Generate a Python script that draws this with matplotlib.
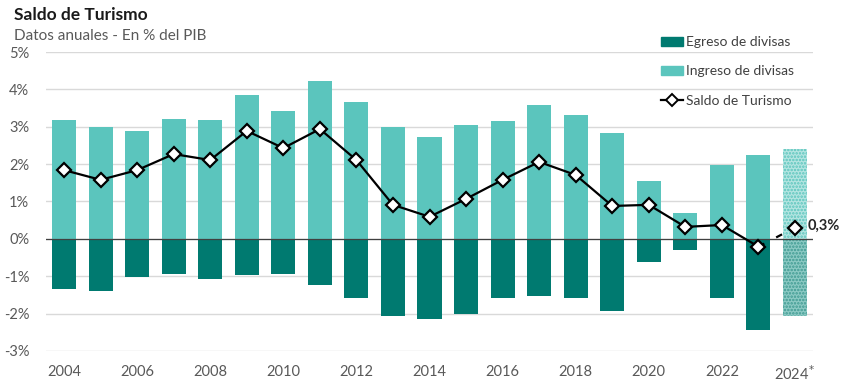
import numpy as np
import matplotlib.pyplot as plt
from matplotlib.patches import Patch
from matplotlib.lines import Line2D

plt.rcParams['font.family'] = ['Lato', 'DejaVu Sans']
plt.rcParams['hatch.linewidth'] = 1.2

# data (% del PIB)
years = list(range(2004, 2025))
ingreso = [3.18, 3.00, 2.89, 3.21, 3.18, 3.85, 3.42, 4.22, 3.66, 3.00, 2.73,
           3.05, 3.16, 3.58, 3.32, 2.83, 1.55, 0.70, 1.98, 2.25, 2.41]
egreso = [-1.34, -1.39, -1.02, -0.94, -1.07, -0.96, -0.94, -1.23, -1.58, -2.06, -2.14,
          -2.00, -1.58, -1.52, -1.58, -1.93, -0.62, -0.29, -1.58, -2.43, -2.06]
saldo = [1.84, 1.58, 1.84, 2.27, 2.11, 2.89, 2.43, 2.94, 2.11, 0.91, 0.59,
         1.07, 1.58, 2.06, 1.71, 0.88, 0.91, 0.32, 0.37, -0.21, 0.30]
xtick_years = list(range(2004, 2025, 2))
xtick_labels = [str(y) for y in xtick_years[:-1]] + ['2024$^{*}$']

c_ing = '#5bc5bd'
c_egr = '#007a70'
grey = '#595959'

fig = plt.figure(figsize=(8.48, 3.92), dpi=100)
ax = fig.add_axes([0.054, 0.105, 0.905, 0.762])

x = np.array(years)
w = 0.66
# actual years
ax.bar(x[:-1], ingreso[:-1], width=w, color=c_ing, zorder=2)
ax.bar(x[:-1], egreso[:-1], width=w, color=c_egr, zorder=2)
# 2024 estimate, textured
ax.bar(x[-1], ingreso[-1], width=w, color='#b5e5e1', edgecolor=c_ing,
       hatch='.....', linewidth=0, zorder=2)
ax.bar(x[-1], egreso[-1], width=w, color='#8ccac4', edgecolor='#3f9a92',
       hatch='.....', linewidth=0, zorder=2)

# saldo line
ax.plot(x[:-1], saldo[:-1], color='black', lw=1.6, zorder=3)
ax.plot(x[-2:], saldo[-2:], color='black', lw=1.6, ls=(0, (3, 6)), zorder=3)
ax.plot(x, saldo, ls='none', marker='D', ms=7.5, mfc='white', mec='black',
        mew=1.6, zorder=4)
ax.text(x[-1] + 0.35, saldo[-1] + 0.05, '0,3%', fontsize=10.5, fontweight='bold',
        color='#262626', va='center', ha='left')

ax.axhline(0, color='#404040', lw=0.9, zorder=2.5)
ax.set_xlim(2003.5, 2024.5)
ax.set_ylim(-3, 5)
ax.set_yticks(range(-3, 6))
ax.set_yticklabels([f'{v}%' for v in range(-3, 6)])
ax.set_xticks(xtick_years)
ax.set_xticklabels(xtick_labels)
ax.grid(axis='y', color='#d9d9d9', lw=1, zorder=0)
ax.set_axisbelow(True)
for s in ax.spines.values():
    s.set_visible(False)
ax.tick_params(length=0, labelsize=10.5, labelcolor=grey)
ax.tick_params(axis='x', pad=10)
ax.tick_params(axis='y', pad=12)

fig.text(0.016, 0.962, 'Saldo de Turismo', fontsize=12.5, fontweight='bold',
         color='#1a1a1a', va='center')
fig.text(0.016, 0.908, 'Datos anuales - En % del PIB', fontsize=11,
         color=grey, va='center')

handles = [Patch(color=c_egr), Patch(color=c_ing),
           Line2D([], [], color='black', lw=1.6, marker='D', ms=6,
                  mfc='white', mec='black', mew=1.4)]
labels = ['Egreso de divisas', 'Ingreso de divisas', 'Saldo de Turismo']
leg = fig.legend(handles, labels, loc='upper left',
                 bbox_to_anchor=(0.765, 0.94), frameon=False, fontsize=10,
                 handlelength=1.6, handleheight=0.6, handletextpad=0.15,
                 labelspacing=1.25, labelcolor='#404040')

fig.savefig('out.png', dpi=100)
